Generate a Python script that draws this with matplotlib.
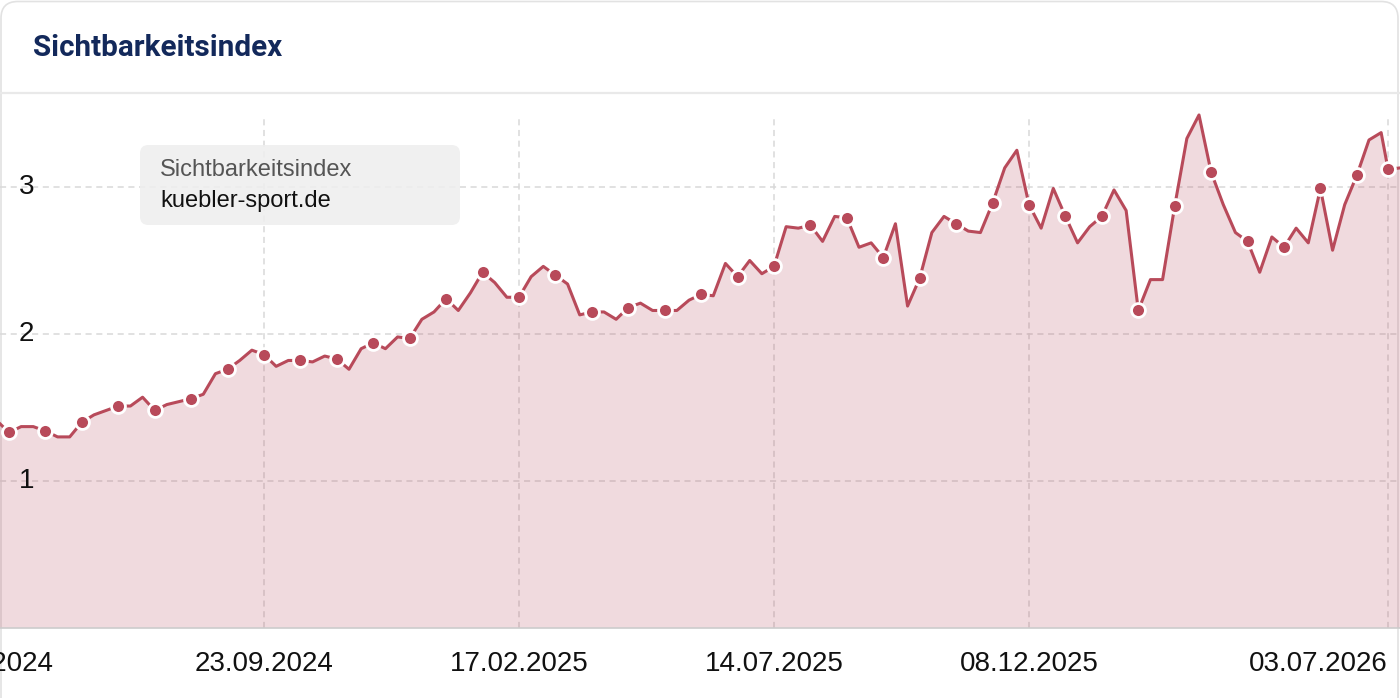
import numpy as np
import pandas as pd
import matplotlib
matplotlib.use('Agg')
import matplotlib.pyplot as plt
import matplotlib.dates as mdates
import matplotlib.transforms as mtransforms
from matplotlib.patches import FancyBboxPatch

# weekly values (Monday dates from 15.04.2024), then the last two readings
WEEK_START = '2024-04-15'
VALUES = [
    1.40, 1.41, 1.33, 1.37, 1.37, 1.34, 1.30, 1.30, 1.40, 1.45,
    1.48, 1.51, 1.51, 1.57, 1.48, 1.52, 1.54, 1.56, 1.59, 1.73,
    1.76, 1.82, 1.89, 1.86, 1.78, 1.82, 1.82, 1.81, 1.85, 1.83,
    1.76, 1.90, 1.94, 1.90, 1.98, 1.97, 2.10, 2.15, 2.24, 2.16,
    2.28, 2.42, 2.35, 2.25, 2.25, 2.39, 2.46, 2.40, 2.34, 2.13,
    2.15, 2.15, 2.10, 2.18, 2.21, 2.16, 2.16, 2.16, 2.23, 2.27,
    2.26, 2.48, 2.39, 2.50, 2.41, 2.46, 2.73, 2.72, 2.74, 2.63,
    2.80, 2.79, 2.59, 2.62, 2.52, 2.75, 2.19, 2.38, 2.69, 2.80,
    2.75, 2.70, 2.69, 2.89, 3.13, 3.25, 2.88, 2.72, 2.99, 2.80,
    2.62, 2.73, 2.80, 2.98, 2.84, 2.16, 2.37, 2.37, 2.87, 3.33,
    3.49, 3.10, 2.88, 2.69, 2.63, 2.42, 2.66, 2.59, 2.72, 2.62,
    2.99, 2.57, 2.88, 3.08, 3.32, 3.37,
]
EXTRA_DATES = ['2026-07-03', '2026-07-10']
EXTRA_VALUES = [3.12, 3.13]

TICK_DATES = ['2024-04-15', '2024-09-23', '2025-02-17', '2025-07-14', '2025-12-08', '2026-07-03']
TICK_LABELS = ['15.04.2024', '23.09.2024', '17.02.2025', '14.07.2025', '08.12.2025', '03.07.2026']
Y_TICKS = [1, 2, 3]

TITLE = 'Sichtbarkeitsindex'
LEGEND_SERIES = 'Sichtbarkeitsindex'
LEGEND_DOMAIN = 'kuebler-sport.de'

RED = '#b84a5a'
W, H = 1400, 698

dates = list(pd.date_range(WEEK_START, periods=len(VALUES), freq='7D')) + \
    [pd.Timestamp(d) for d in EXTRA_DATES]
vals = VALUES + EXTRA_VALUES
x = mdates.date2num(dates)

fig = plt.figure(figsize=(W / 100, H / 100), dpi=100, facecolor='white')

# card outline + header separator
card = FancyBboxPatch((1 / W, -0.1), 1397 / W, 1 + 0.1 - 1.5 / H,
                      boxstyle='round,pad=0,rounding_size=0.012',
                      transform=fig.transFigure, fc='white', ec='#e2e2e2', lw=1.2,
                      zorder=-10, mutation_aspect=W / H)
fig.patches.append(card)
fig.add_artist(plt.Line2D([0, 1], [1 - 93 / H] * 2, transform=fig.transFigure,
                          color='#e9e9e9', lw=1.6, zorder=-5))
fig.text(33 / W, 1 - 48 / H, TITLE, fontsize=21.3, fontweight='bold', family='Roboto',
         color='#13295b', va='center', ha='left')

# plot area: bottom at y=628 px, top at y=115 px (the first date sits left of the crop)
ax = fig.add_axes([0, (H - 628) / H, 1, (628 - 115) / H])
ax.set_zorder(1)
ax.set_facecolor('none')

ax.fill_between(x, vals, 0, color=RED, alpha=0.2, lw=0, zorder=2)
ax.plot(x, vals, color=RED, lw=2.2, zorder=3, clip_on=False)
# markers every third week; the last marked point is the 03.07.2026 reading
ax.plot(x, vals, ls='none', marker='o', ms=10, mfc=RED, mec='white', mew=2,
        markevery=list(range(2, len(vals) - 1, 3)), zorder=4, clip_on=False)

grid_kw = dict(color='#d9d9d9', lw=1.1, ls=(0, (4, 3)), zorder=1)
for yv in Y_TICKS:
    ax.axhline(yv, **grid_kw)
tick_x = mdates.date2num(pd.to_datetime(TICK_DATES))
for tx in tick_x:
    ax.axvline(tx, **grid_kw)

ref = mdates.date2num(pd.Timestamp('2024-09-23'))
px_day = 255 / 147
ax.set_xlim(ref - 264 / px_day, ref + (1400 - 264) / px_day)
ax.set_ylim(0, (628 - 115) / 147)

for s in ('top', 'left', 'right'):
    ax.spines[s].set_visible(False)
ax.spines['bottom'].set_color('#cccccc')
ax.spines['bottom'].set_linewidth(1.2)
ax.spines['bottom'].set_zorder(5)
ax.set_xticks([])
ax.set_yticks([])

xlab_tr = mtransforms.blended_transform_factory(ax.transData, ax.transAxes)
for i, (tx, lab) in enumerate(zip(tick_x, TICK_LABELS)):
    ax.text(tx, -36 / 513, lab, transform=xlab_tr, fontsize=20, family='Liberation Sans',
            color='#111111', va='center', ha='right' if i == len(tick_x) - 1 else 'center',
            clip_on=False)

ylab_tr = mtransforms.blended_transform_factory(fig.transFigure, ax.transData)
for yv in Y_TICKS:
    ax.text(19 / W, yv, str(yv), transform=ylab_tr, fontsize=20,
            family='Liberation Sans', color='#111111', va='center', ha='left', zorder=6)

# legend box
box = FancyBboxPatch((140 / W, 1 - 225 / H), 320 / W, 80 / H,
                     boxstyle='round,pad=0,rounding_size=0.006',
                     transform=fig.transFigure, fc='#eeeeee', ec='none', alpha=0.88,
                     mutation_aspect=W / H, zorder=10)
fig.patches.append(box)
fig.text(160 / W, 1 - 170 / H, LEGEND_SERIES, fontsize=17, family='Liberation Sans',
         color='#555555', va='center', ha='left', zorder=11)
fig.text(160 / W, 1 - 201 / H, LEGEND_DOMAIN, fontsize=17, family='Liberation Sans',
         color='#111111', va='center', ha='left', zorder=11)

fig.savefig('out.png', dpi=100, facecolor='white')
